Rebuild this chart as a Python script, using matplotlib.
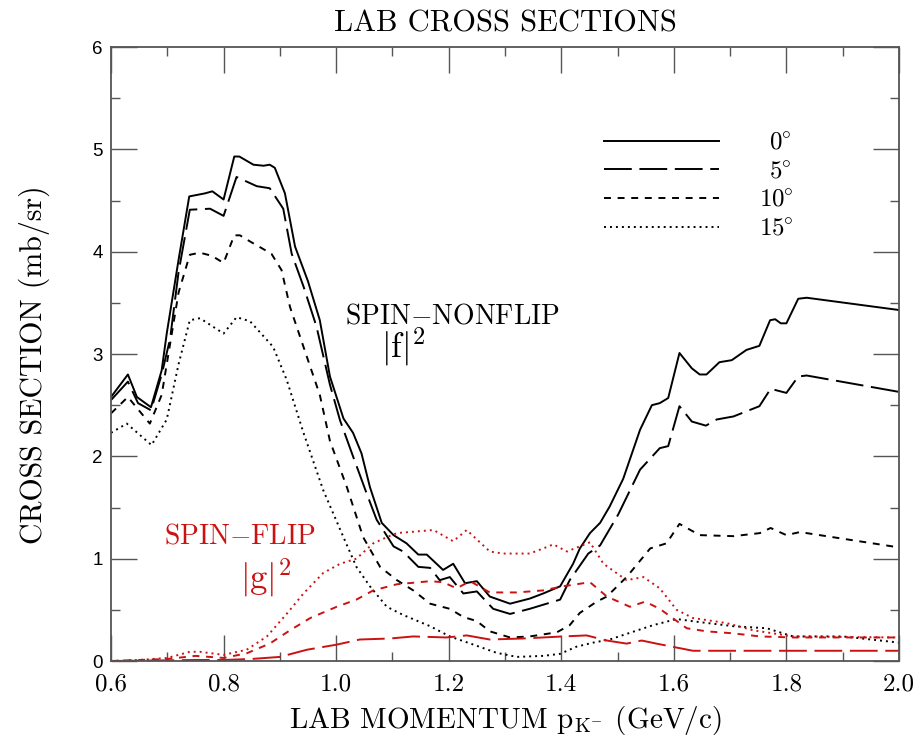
import matplotlib
matplotlib.use('Agg')
import matplotlib.pyplot as plt
from matplotlib.lines import Line2D
from matplotlib.ticker import MultipleLocator, FormatStrFormatter

plt.rcParams['font.family'] = ['cmr10', 'DejaVu Serif']
plt.rcParams['mathtext.fontset'] = 'cm'
plt.rcParams['axes.unicode_minus'] = False
plt.rcParams['axes.formatter.use_mathtext'] = True
plt.rcParams['lines.scale_dashes'] = False

ROJO = '#cc1111'
GRIS = '#555555'

# SPIN-NONFLIP |f|^2, angulos 0, 5, 10, 15 grados
x_f0 = [0.60, 0.630, 0.646, 0.671, 0.690, 0.699, 0.720, 0.739, 0.767, 0.780, 0.800, 0.819,
        0.828, 0.853, 0.871, 0.882, 0.891, 0.909, 0.927, 0.950, 0.971, 0.989, 1.013, 1.030,
        1.045, 1.060, 1.081, 1.102, 1.125, 1.146, 1.161, 1.190, 1.208, 1.229, 1.250, 1.273,
        1.309, 1.344, 1.368, 1.398, 1.421, 1.433, 1.451, 1.469, 1.486, 1.510, 1.540, 1.561,
        1.575, 1.590, 1.610, 1.632, 1.646, 1.658, 1.681, 1.703, 1.729, 1.752, 1.771, 1.780,
        1.790, 1.800, 1.821, 1.836, 2.00]
y_f0 = [2.58, 2.80, 2.58, 2.48, 2.84, 3.20, 3.92, 4.54, 4.57, 4.59, 4.51, 4.93,
        4.93, 4.85, 4.84, 4.85, 4.82, 4.57, 4.05, 3.71, 3.33, 2.78, 2.37, 2.23,
        2.03, 1.70, 1.35, 1.23, 1.15, 1.04, 1.04, 0.89, 0.95, 0.76, 0.78, 0.63,
        0.56, 0.61, 0.66, 0.73, 0.95, 1.10, 1.25, 1.35, 1.51, 1.78, 2.26, 2.50,
        2.52, 2.57, 3.01, 2.86, 2.80, 2.80, 2.92, 2.94, 3.04, 3.08, 3.33, 3.34,
        3.30, 3.30, 3.54, 3.55, 3.43]

x_f5 = [0.60, 0.630, 0.648, 0.671, 0.690, 0.705, 0.720, 0.740, 0.776, 0.800, 0.823, 0.859,
        0.882, 0.906, 0.921, 0.942, 0.965, 0.989, 1.007, 1.030, 1.054, 1.072, 1.102, 1.119,
        1.146, 1.167, 1.184, 1.202, 1.226, 1.250, 1.279, 1.309, 1.344, 1.398, 1.415, 1.448,
        1.469, 1.501, 1.540, 1.575, 1.590, 1.610, 1.632, 1.657, 1.676, 1.706, 1.752, 1.772,
        1.800, 1.821, 1.836, 2.00]
y_f5 = [2.55, 2.73, 2.52, 2.45, 2.80, 3.15, 3.80, 4.41, 4.42, 4.35, 4.73, 4.64,
        4.62, 4.42, 3.98, 3.66, 3.27, 2.70, 2.35, 2.00, 1.64, 1.38, 1.12, 1.07,
        0.92, 0.91, 0.79, 0.82, 0.66, 0.68, 0.51, 0.46, 0.51, 0.60, 0.79, 1.05,
        1.13, 1.43, 1.87, 2.08, 2.10, 2.49, 2.34, 2.30, 2.36, 2.39, 2.49, 2.66,
        2.62, 2.78, 2.79, 2.63]

x_f10 = [0.60, 0.630, 0.669, 0.690, 0.705, 0.720, 0.740, 0.758, 0.779, 0.800, 0.819, 0.829,
         0.847, 0.885, 0.903, 0.918, 0.942, 0.971, 0.989, 1.019, 1.048, 1.078, 1.108, 1.137,
         1.167, 1.202, 1.226, 1.250, 1.273, 1.309, 1.344, 1.392, 1.415, 1.433, 1.463, 1.481,
         1.516, 1.558, 1.587, 1.610, 1.646, 1.706, 1.753, 1.772, 1.800, 1.824, 2.00]
y_f10 = [2.42, 2.58, 2.32, 2.60, 3.10, 3.60, 3.97, 3.99, 3.96, 3.89, 4.16, 4.16,
         4.10, 3.98, 3.82, 3.46, 3.07, 2.60, 2.15, 1.70, 1.21, 0.92, 0.79, 0.69,
         0.56, 0.51, 0.43, 0.39, 0.29, 0.23, 0.24, 0.28, 0.35, 0.47, 0.58, 0.63,
         0.82, 1.10, 1.15, 1.34, 1.23, 1.22, 1.25, 1.30, 1.23, 1.26, 1.11]

x_f15 = [0.60, 0.628, 0.672, 0.699, 0.720, 0.740, 0.758, 0.800, 0.823, 0.847, 0.888, 0.912,
         0.942, 0.977, 1.013, 1.036, 1.060, 1.090, 1.119, 1.167, 1.202, 1.244, 1.285, 1.321,
         1.368, 1.398, 1.427, 1.457, 1.486, 1.563, 1.605, 1.646, 1.706, 1.765, 1.812, 1.901,
         2.00]
y_f15 = [2.23, 2.32, 2.11, 2.36, 2.90, 3.33, 3.35, 3.20, 3.36, 3.32, 3.07, 2.75,
         2.23, 1.67, 1.21, 0.92, 0.73, 0.53, 0.45, 0.34, 0.24, 0.16, 0.08, 0.04,
         0.05, 0.07, 0.14, 0.18, 0.21, 0.35, 0.41, 0.38, 0.34, 0.32, 0.24, 0.24,
         0.18]

# SPIN-FLIP |g|^2, angulos 5, 10, 15 grados
x_g5 = [0.60, 0.75, 0.80, 0.85, 0.900, 0.948, 1.001, 1.042, 1.096, 1.137, 1.196, 1.232,
        1.273, 1.332, 1.403, 1.445, 1.481, 1.516, 1.543, 1.569, 1.634, 1.723, 2.00]
y_g5 = [0.00, 0.01, 0.01, 0.02, 0.04, 0.11, 0.16, 0.21, 0.22, 0.24, 0.23, 0.25,
        0.21, 0.22, 0.24, 0.25, 0.20, 0.17, 0.20, 0.17, 0.10, 0.10, 0.10]

x_g10 = [0.60, 0.70, 0.75, 0.80, 0.841, 0.882, 0.918, 0.954, 1.001, 1.036, 1.066, 1.108,
         1.167, 1.190, 1.214, 1.238, 1.273, 1.321, 1.368, 1.403, 1.451, 1.481, 1.522, 1.549,
         1.575, 1.623, 1.658, 1.706, 1.753, 1.812, 2.00]
y_g10 = [0.00, 0.02, 0.05, 0.03, 0.075, 0.17, 0.30, 0.42, 0.53, 0.60, 0.69, 0.75,
         0.78, 0.77, 0.71, 0.78, 0.67, 0.67, 0.69, 0.73, 0.77, 0.63, 0.53, 0.58,
         0.51, 0.32, 0.29, 0.27, 0.24, 0.23, 0.23]

x_g15 = [0.60, 0.65, 0.70, 0.740, 0.758, 0.800, 0.841, 0.877, 0.912, 0.942, 0.977, 1.007,
         1.036, 1.066, 1.090, 1.108, 1.173, 1.208, 1.232, 1.273, 1.297, 1.344, 1.368, 1.386,
         1.410, 1.451, 1.475, 1.516, 1.546, 1.575, 1.605, 1.634, 1.694, 1.741, 1.812, 2.00]
y_g15 = [0.00, 0.01, 0.03, 0.09, 0.09, 0.06, 0.11, 0.24, 0.46, 0.66, 0.86, 0.95,
         1.00, 1.15, 1.21, 1.25, 1.28, 1.17, 1.28, 1.07, 1.05, 1.05, 1.10, 1.14,
         1.07, 1.16, 0.95, 0.79, 0.82, 0.71, 0.50, 0.42, 0.37, 0.30, 0.24, 0.23]

angulos = ['0', '5', '10', '15']

# estilos de linea (en puntos)
LARGO = (0, (20, 5.5))
CORTO = (0, (5, 4.8))
PUNTO = (0, (1.4, 2.9))
LW = 1.4

fig = plt.figure(figsize=(9.19, 7.36), dpi=100)
ax = fig.add_axes([0.1208, 0.1019, 0.8574, 0.8342])

# GRAFICA NONFLIP
ax.plot(x_f0, y_f0, color='black', lw=LW, ls='-')
ax.plot(x_f5, y_f5, color='black', lw=LW, ls=LARGO)
ax.plot(x_f10, y_f10, color='black', lw=LW, ls=CORTO)
ax.plot(x_f15, y_f15, color='black', lw=LW, ls=PUNTO)

# GRAFICA FLIP
ax.plot(x_g5, y_g5, color=ROJO, lw=LW, ls=LARGO)
ax.plot(x_g10, y_g10, color=ROJO, lw=LW, ls=CORTO)
ax.plot(x_g15, y_g15, color=ROJO, lw=LW, ls=PUNTO)

ax.set_xlim(0.6, 2.0)
ax.set_ylim(0, 6)
ax.xaxis.set_major_locator(MultipleLocator(0.2))
ax.xaxis.set_minor_locator(MultipleLocator(0.1))
ax.yaxis.set_major_locator(MultipleLocator(1))
ax.yaxis.set_minor_locator(MultipleLocator(0.5))
ax.xaxis.set_major_formatter(FormatStrFormatter('%.1f'))
ax.yaxis.set_major_formatter(FormatStrFormatter('%d'))
ax.tick_params(which='both', direction='in', top=True, right=True, color=GRIS, width=1.0)
ax.tick_params(which='major', length=19)
ax.tick_params(which='minor', length=6.5)
ax.tick_params(axis='x', labelsize=18, pad=9)
ax.tick_params(axis='y', labelsize=13.5, pad=6)
for t in ax.get_yticklabels():
    t.set_fontfamily('Liberation Sans')
for s in ax.spines.values():
    s.set_color(GRIS)
    s.set_linewidth(1.3)

ax.set_xlabel(r'LAB MOMENTUM $\mathrm{p}_{\mathrm{K}^{-}}$ (GeV/c)', fontsize=21, labelpad=6)
ax.set_ylabel('CROSS SECTION (mb/sr)', fontsize=21.5)
ax.yaxis.set_label_coords(-0.077, 0.482)
ax.set_title('LAB CROSS SECTIONS', fontsize=22, pad=11)

ax.text(1.206, 3.37, r'SPIN$-$NONFLIP', fontsize=20, ha='center', va='center')
ax.text(1.119, 3.07, r'$|\mathrm{f}|^2$', fontsize=25, ha='center', va='center')
ax.text(0.829, 1.22, r'SPIN$-$FLIP', fontsize=20, ha='center', va='center', color=ROJO)
ax.text(0.875, 0.81, r'$|\mathrm{g}|^2$', fontsize=25, ha='center', va='center', color=ROJO)

# LEYENDA
handles = [Line2D([], [], color='black', lw=LW, ls=s) for s in ['-', LARGO, CORTO, PUNTO]]
labels = [(r'$\enspace%s^{\!\!\circ}$' if len(a) == 1 else r'$%s^{\!\!\circ}$') % a for a in angulos]
ax.legend(handles, labels, loc='upper left', bbox_to_anchor=(0.626, 0.862), frameon=False,
          fontsize=18, handlelength=4.6, handletextpad=1.6, labelspacing=0.25,
          borderpad=0, borderaxespad=0)

fig.savefig('out.png', dpi=100)
